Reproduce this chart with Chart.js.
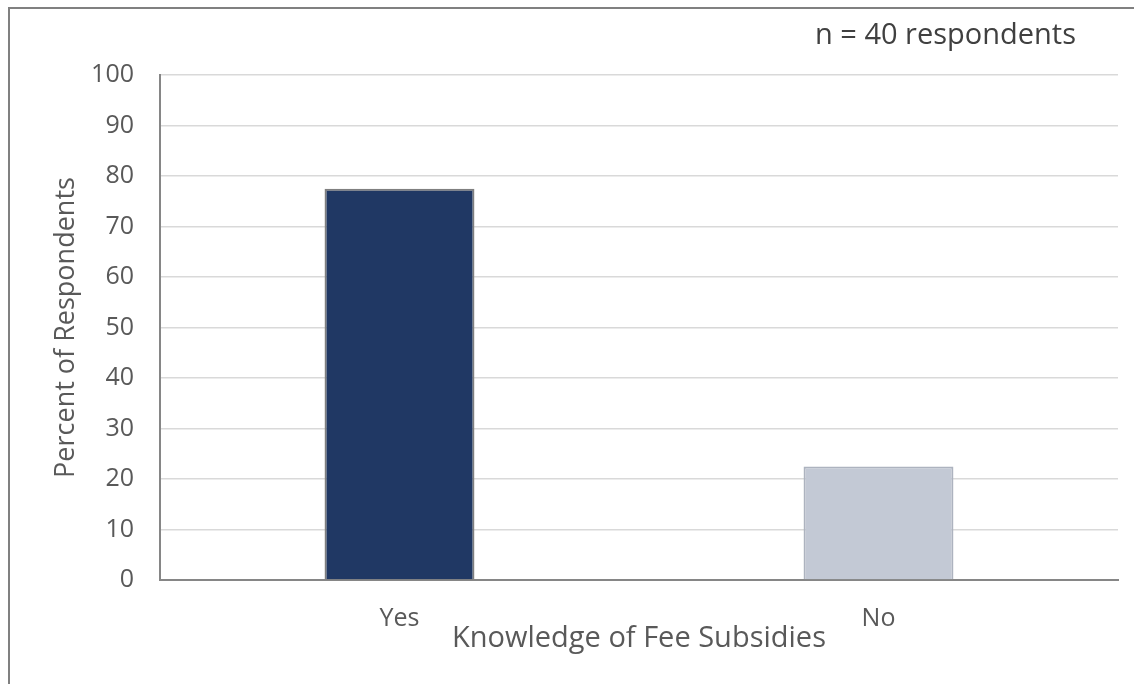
<!DOCTYPE html>
<html><head><meta charset="utf-8">
<script src="https://cdn.jsdelivr.net/npm/chart.js@4/dist/chart.umd.min.js"></script>
<style>
html,body{margin:0;padding:0;background:#fff;}
#wrap{position:relative;width:1134px;height:684px;overflow:hidden;}
#frame{position:absolute;left:8px;top:7px;width:1200px;height:800px;border:2px solid #808080;box-sizing:border-box;}
canvas{position:absolute;left:0;top:0;}
</style></head>
<body><div id="wrap"><div id="frame"></div><canvas id="c" width="1134" height="684"></canvas></div>
<script>
const categories = ["Yes", "No"];
const percentValues = [77.5, 22.5];
const barColors = ["#203864", "#c3c9d5"];
const barBorders = ["#7f7f7f", "#adb3bf"];
const yTicks = [0,10,20,30,40,50,60,70,80,90,100];
const noteText = "n = 40 respondents";

const FONT = "'Open Sans', 'Segoe UI', sans-serif";

const notePlugin = {
  id: 'note',
  afterDraw(chart){
    const ctx = chart.ctx;
    ctx.save();
    ctx.font = "29px " + FONT;
    ctx.fillStyle = "#404040";
    ctx.textAlign = "right";
    ctx.textBaseline = "middle";
    ctx.fillText(noteText, 1076, 36);
    ctx.restore();
  }
};

new Chart(document.getElementById('c'), {
  type: 'bar',
  data: {
    labels: categories,
    datasets: [{
      data: percentValues,
      backgroundColor: barColors,
      borderColor: barBorders,
      borderWidth: 2,
      barPercentage: 0.313,
      categoryPercentage: 1.0
    }]
  },
  options: {
    responsive: false,
    animation: false,
    layout: { padding: { left: 50, right: 16, top: 75, bottom: 10 } },
    plugins: { legend: { display: false }, tooltip: { enabled: false } },
    scales: {
      x: {
        grid: { display: false, drawTicks: false },
        border: { color: '#868686', width: 2 },
        ticks: { color: '#595959', font: { family: FONT, size: 25 }, padding: 24 },
        title: { display: true, text: 'Knowledge of Fee Subsidies', color: '#595959', font: { family: FONT, size: 29 }, padding: { top: 0, bottom: 18 } },
        afterFit(s){ s.height = 94; }
      },
      y: {
        min: 0, max: 100,
        afterBuildTicks(s){ s.ticks = yTicks.map(v => ({ value: v })); },
        grid: { color: '#d9d9d9', lineWidth: 1.5, drawTicks: false },
        border: { color: '#868686', width: 2 },
        ticks: { color: '#595959', font: { family: FONT, size: 25 }, padding: 26 },
        title: { display: true, text: 'Percent of Respondents', color: '#595959', font: { family: FONT, size: 27 }, padding: { top: 0, bottom: 0 } },
        afterFit(s){ s.width = 110; }
      }
    }
  },
  plugins: [notePlugin]
});
</script>
</body></html>
